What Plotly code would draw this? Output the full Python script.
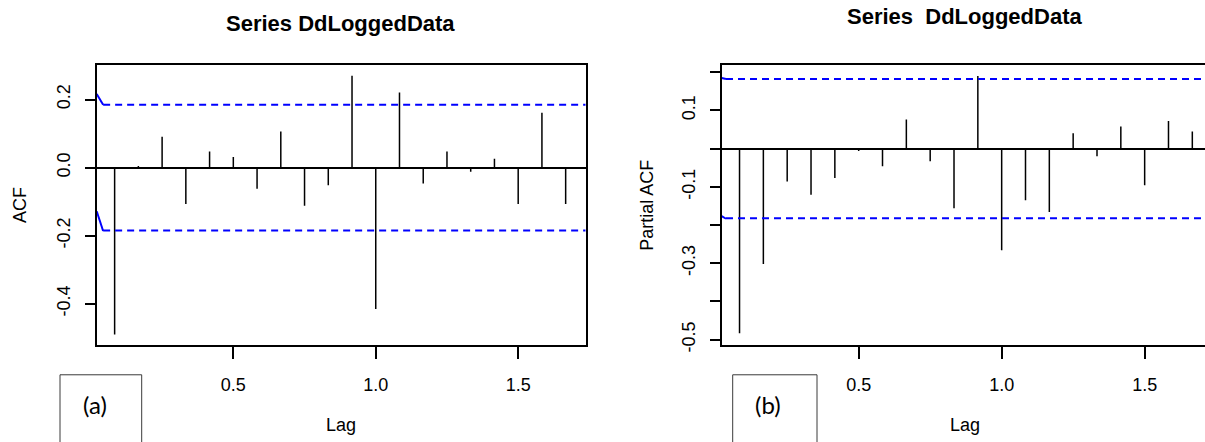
import plotly.graph_objects as go

# ---------------- data ----------------
lags = [1/12, 2/12, 3/12, 4/12, 5/12, 6/12, 7/12, 8/12, 9/12, 10/12,
        11/12, 12/12, 13/12, 14/12, 15/12, 16/12, 17/12, 18/12, 19/12, 20/12]
acf_vals = [-0.490, 0.005, 0.091, -0.107, 0.047, 0.031, -0.062, 0.106, -0.112, -0.052,
            0.270, -0.415, 0.221, -0.047, 0.047, -0.012, 0.026, -0.107, 0.161, -0.107]
pacf_vals = [-0.483, -0.302, -0.086, -0.121, -0.077, -0.006, -0.046, 0.076, -0.033, -0.156,
             0.190, -0.266, -0.135, -0.166, 0.040, -0.020, 0.058, -0.096, 0.072, 0.045]
acf_ci = 0.185
pacf_ci = 0.182
# small solid segments at left edge of the confidence lines (x, y pairs)
acf_edge_x = [0.0204, 0.043]
acf_edge_upper = [0.2165, 0.185]
acf_edge_lower = [-0.128, -0.186]
pacf_edge_x = [0.021, 0.036]
pacf_edge_upper = [0.185, 0.182]
pacf_edge_lower = [-0.1766, -0.1835]

x_tickvals = [0.5, 1.0, 1.5]
x_ticktext = ["0.5", "1.0", "1.5"]
acf_tickvals = [-0.4, -0.2, 0.0, 0.2]
acf_ticktext = ["-0.4", "-0.2", "0.0", "0.2"]
pacf_tickvals = [-0.5, -0.4, -0.3, -0.2, -0.1, 0.0, 0.1, 0.2]
pacf_ticktext = ["-0.5", "", "-0.3", "", "-0.1", "", "0.1", ""]

title_left = "Series DdLoggedData"
title_right = "Series \u00a0DdLoggedData"

# ---------------- geometry helpers ----------------
W, H = 1205, 442


def px(x):
    return x / W


def py(y):
    return 1 - y / H


FONT = "Liberation Sans, Arial, sans-serif"
BLUE = "#0000ff"


def spikes(xs, ys):
    sx, sy = [], []
    for x, y in zip(xs, ys):
        sx += [x, x, None]
        sy += [0, y, None]
    return sx, sy


fig = go.Figure()

LEFT_XR = [0.0204, 1.737]
RIGHT_XR = [0.021, 1.711]

for (xa, ya, vals, ci, ex, eu, el, xr) in [
    ("x", "y", acf_vals, acf_ci, acf_edge_x, acf_edge_upper, acf_edge_lower, LEFT_XR),
    ("x2", "y2", pacf_vals, pacf_ci, pacf_edge_x, pacf_edge_upper, pacf_edge_lower, RIGHT_XR),
]:
    sx, sy = spikes(lags, vals)
    fig.add_trace(go.Scatter(x=sx, y=sy, mode="lines", xaxis=xa, yaxis=ya,
                             line=dict(color="black", width=1.5), hoverinfo="skip"))
    # confidence lines
    for yv, edge in [(ci, eu), (-ci, el)]:
        fig.add_trace(go.Scatter(x=[ex[1], xr[1]], y=[yv, yv], mode="lines",
                                 xaxis=xa, yaxis=ya,
                                 line=dict(color=BLUE, width=2, dash="7px,5px"),
                                 hoverinfo="skip"))
        fig.add_trace(go.Scatter(x=ex, y=edge, mode="lines", xaxis=xa, yaxis=ya,
                                 line=dict(color=BLUE, width=2), hoverinfo="skip"))

ydom = [py(351), py(66.7)]
axis_common = dict(showgrid=False, ticks="outside", tickwidth=2, tickcolor="black",
                   linecolor="black", linewidth=2, showline=True,
                   tickfont=dict(family=FONT, size=18, color="black"))

fig.update_layout(
    width=W, height=H,
    margin=dict(l=0, r=0, t=0, b=0),
    paper_bgcolor="white", plot_bgcolor="white",
    showlegend=False,
    xaxis=dict(domain=[px(96.7), px(585.7)], range=LEFT_XR, anchor="y",
               tickvals=x_tickvals, ticktext=x_ticktext, ticklen=12, mirror=True,
               zeroline=False, ticklabelstandoff=11, **axis_common),
    yaxis=dict(domain=ydom, range=[-0.52, 0.30], anchor="x",
               tickvals=acf_tickvals, ticktext=acf_ticktext, ticklen=10, mirror=True,
               tickangle=-90, zeroline=True, zerolinecolor="black", zerolinewidth=2,
               ticklabelstandoff=8, **axis_common),
    xaxis2=dict(domain=[px(721.7), 1.0], range=RIGHT_XR, anchor="y2",
                tickvals=x_tickvals, ticktext=x_ticktext, ticklen=12, mirror=True,
                zeroline=False, ticklabelstandoff=11, **axis_common),
    yaxis2=dict(domain=ydom, range=[-0.513, 0.2175], anchor="x2",
                tickvals=pacf_tickvals, ticktext=pacf_ticktext, ticklen=10, mirror=False,
                tickangle=-90, zeroline=True, zerolinecolor="black", zerolinewidth=2,
                ticklabelstandoff=8, **axis_common),
)

ann = []
ann.append(dict(text="<b>%s</b>" % title_left, x=px(340.8), y=py(23.5), xref="paper", yref="paper",
                showarrow=False, xanchor="center", yanchor="middle",
                font=dict(family=FONT, size=22, color="black")))
ann.append(dict(text="<b>%s</b>" % title_right, x=px(964), y=py(16.7), xref="paper", yref="paper",
                showarrow=False, xanchor="center", yanchor="middle",
                font=dict(family=FONT, size=22, color="black")))
for xc in [341.2, 964.6]:
    ann.append(dict(text="Lag", x=px(xc), y=py(433), xref="paper", yref="paper",
                    showarrow=False, xanchor="center", yanchor="middle",
                    font=dict(family=FONT, size=18, color="black")))
ann.append(dict(text="ACF", x=px(20), y=py(208.9), xref="paper", yref="paper", textangle=-90,
                showarrow=False, xanchor="center", yanchor="middle",
                font=dict(family=FONT, size=18, color="black")))
ann.append(dict(text="Partial ACF", x=px(646.7), y=py(208.9), xref="paper", yref="paper",
                textangle=-90, showarrow=False, xanchor="center", yanchor="middle",
                font=dict(family=FONT, size=18, color="black")))
ann.append(dict(text="(a)", x=px(95), y=py(411.7), xref="paper", yref="paper",
                showarrow=False, xanchor="center", yanchor="middle",
                font=dict(family="Lato, sans-serif", size=24, color="black")))
ann.append(dict(text="(b)", x=px(768.3), y=py(411.7), xref="paper", yref="paper",
                showarrow=False, xanchor="center", yanchor="middle",
                font=dict(family="Lato, sans-serif", size=24, color="black")))
fig.update_layout(annotations=ann)

shapes = []
for x0, x1 in [(60, 141.7), (732.7, 817)]:
    shapes.append(dict(type="rect", xref="paper", yref="paper",
                       x0=px(x0), x1=px(x1), y0=py(460), y1=py(381.7),
                       line=dict(color="#3a3a3a", width=1), fillcolor="rgba(0,0,0,0)"))
fig.update_layout(shapes=shapes)

fig.write_html("out.html", config={"displayModeBar": False},
               post_script="document.body.style.margin='0';document.body.style.overflow='hidden';")
